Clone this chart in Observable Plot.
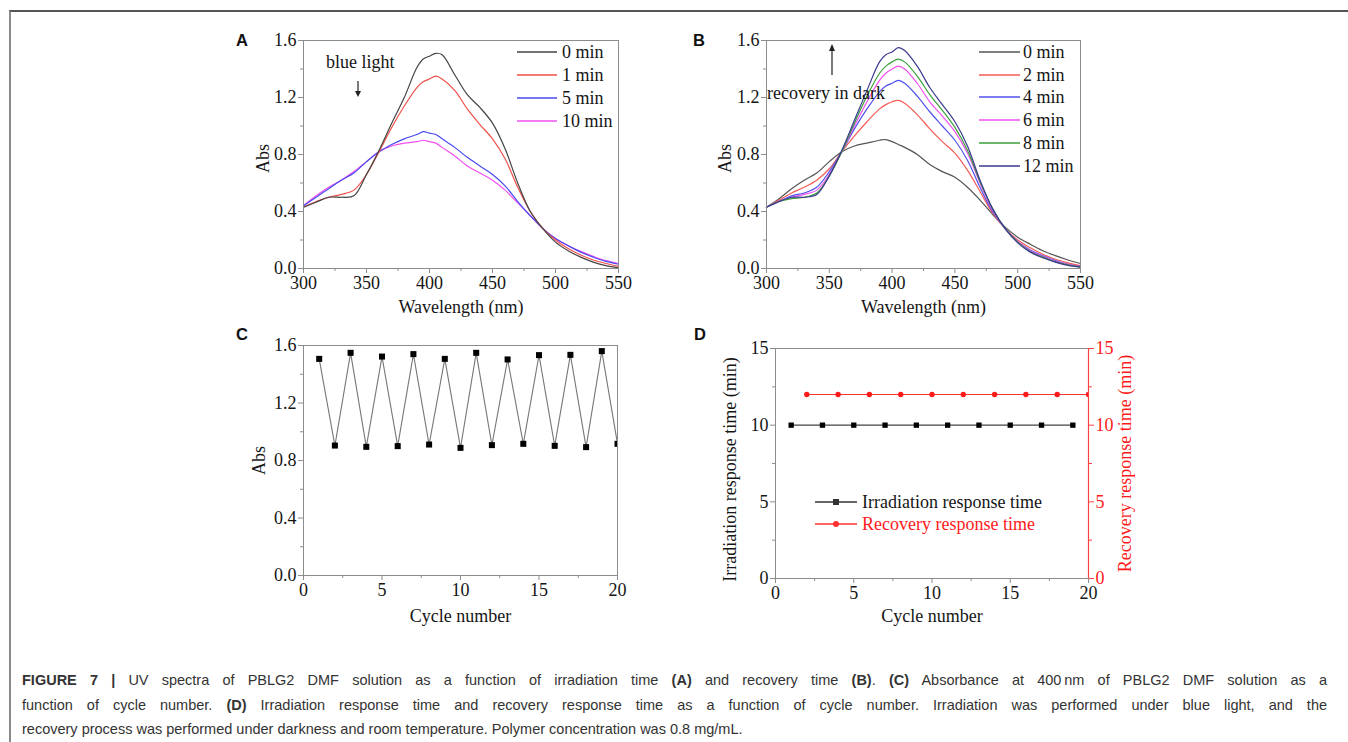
<!DOCTYPE html>
<html><head><meta charset="utf-8">
<script src="https://cdn.jsdelivr.net/npm/d3@7"></script>
<script src="https://cdn.jsdelivr.net/npm/@observablehq/plot@0.6"></script>
<style>
body{margin:0;background:#fff;}
#root{position:relative;width:1348px;height:742px;overflow:hidden;background:#fff;}
.frame{position:absolute;left:9px;top:10px;width:1400px;height:800px;border-top:2px solid #555;border-left:2px solid #8a8a8a;box-sizing:border-box;}
.panel{position:absolute;}
.plbl{position:absolute;font-family:"Liberation Sans",Arial,sans-serif;font-weight:bold;font-size:16.5px;color:#111;line-height:1;}
.cap{position:absolute;left:22px;top:668px;width:1305px;font-family:"Liberation Sans",Arial,sans-serif;font-size:14.5px;color:#333;line-height:24.5px;}
.cap .j{text-align:justify;text-align-last:justify;}
#overlay{position:absolute;left:0;top:0;}
</style>
</head><body>
<div id="root">
  <div class="frame"></div>
  <div class="plbl" style="left:236px;top:32px">A</div>
  <div class="plbl" style="left:693px;top:32px">B</div>
  <div class="plbl" style="left:236px;top:326px">C</div>
  <div class="plbl" style="left:694px;top:326px">D</div>
  <div id="pA" class="panel" style="left:220px;top:25px"></div>
  <div id="pB" class="panel" style="left:690px;top:25px"></div>
  <div id="pC" class="panel" style="left:220px;top:320px"></div>
  <div id="pD" class="panel" style="left:690px;top:320px"></div>
  <svg id="overlay" width="1348" height="742"></svg>
  <div class="cap">
    <div class="j"><b>FIGURE 7 |</b> UV spectra of PBLG2 DMF solution as a function of irradiation time <b>(A)</b> and recovery time <b>(B)</b>. <b>(C)</b> Absorbance at 400&#8201;nm of PBLG2 DMF solution as a</div>
    <div class="j">function of cycle number. <b>(D)</b> Irradiation response time and recovery response time as a function of cycle number. Irradiation was performed under blue light, and the</div>
    <div>recovery process was performed under darkness and room temperature. Polymer concentration was 0.8 mg/mL.</div>
  </div>
</div>
<script>
// ---------- DATA ----------
const wavelength = [300,310,320,330,340,350,360,370,380,390,395,400,405,410,420,430,440,450,460,470,480,490,500,510,520,530,540,550];

// Panel A: irradiation time series
const A_labels = ["0 min","1 min","5 min","10 min"];
const A_0min  = [0.43,0.465,0.50,0.50,0.51,0.66,0.83,1.02,1.20,1.41,1.47,1.49,1.51,1.50,1.36,1.22,1.13,1.02,0.84,0.60,0.40,0.28,0.185,0.125,0.08,0.045,0.02,0.005];
const A_1min  = [0.43,0.47,0.50,0.52,0.55,0.66,0.82,0.99,1.14,1.27,1.31,1.33,1.35,1.33,1.25,1.12,1.01,0.91,0.77,0.57,0.40,0.28,0.20,0.14,0.095,0.06,0.035,0.015];
const A_5min  = [0.44,0.50,0.56,0.62,0.67,0.75,0.82,0.87,0.91,0.94,0.96,0.95,0.94,0.91,0.85,0.78,0.72,0.66,0.58,0.47,0.37,0.28,0.21,0.16,0.115,0.08,0.05,0.03];
const A_10min = [0.44,0.51,0.57,0.62,0.68,0.75,0.82,0.86,0.88,0.89,0.90,0.89,0.88,0.85,0.79,0.72,0.67,0.62,0.55,0.46,0.37,0.28,0.21,0.16,0.12,0.085,0.055,0.035];

// Panel B: recovery time series
const B_labels = ["0 min","2 min","4 min","6 min","8 min","12 min"];
const B_0min  = [0.43,0.49,0.56,0.62,0.67,0.75,0.82,0.86,0.88,0.90,0.905,0.89,0.87,0.85,0.80,0.73,0.68,0.64,0.57,0.48,0.38,0.29,0.22,0.17,0.125,0.09,0.06,0.035];
const B_2min  = [0.43,0.48,0.53,0.57,0.62,0.70,0.82,0.93,1.03,1.12,1.15,1.17,1.18,1.16,1.08,0.98,0.89,0.81,0.69,0.54,0.39,0.28,0.20,0.145,0.10,0.065,0.04,0.02];
const B_4min  = [0.43,0.47,0.51,0.53,0.57,0.68,0.82,0.98,1.12,1.24,1.28,1.30,1.32,1.30,1.21,1.10,1.00,0.90,0.76,0.57,0.40,0.28,0.19,0.13,0.09,0.055,0.03,0.015];
const B_6min  = [0.43,0.47,0.50,0.52,0.55,0.66,0.82,1.00,1.17,1.32,1.37,1.40,1.42,1.40,1.30,1.17,1.07,0.96,0.81,0.60,0.41,0.28,0.19,0.125,0.085,0.05,0.03,0.012];
const B_8min  = [0.43,0.47,0.49,0.50,0.53,0.65,0.82,1.02,1.21,1.37,1.42,1.45,1.47,1.45,1.35,1.22,1.11,0.99,0.83,0.61,0.42,0.28,0.185,0.12,0.08,0.047,0.025,0.01];
const B_12min = [0.43,0.47,0.50,0.50,0.52,0.65,0.83,1.04,1.25,1.45,1.50,1.52,1.55,1.53,1.42,1.27,1.15,1.03,0.86,0.62,0.42,0.28,0.18,0.115,0.075,0.045,0.022,0.01];

// Panel C: absorbance at 400 nm vs cycle
const C_cycle = [1,2,3,4,5,6,7,8,9,10,11,12,13,14,15,16,17,18,19,20];
const C_abs   = [1.507,0.904,1.549,0.895,1.523,0.900,1.540,0.911,1.507,0.888,1.549,0.907,1.503,0.916,1.533,0.902,1.535,0.893,1.561,0.916];

// Panel D: response times
const D_irrCycle = [1,3,5,7,9,11,13,15,17,19];
const D_irrTime  = [10,10,10,10,10,10,10,10,10,10];
const D_recCycle = [2,4,6,8,10,12,14,16,18,20];
const D_recTime  = [12,12,12,12,12,12,12,12,12,12];
const D_labels = ["Irradiation response time","Recovery response time"];

// Tick values
const specXTicks = [300,350,400,450,500,550];
const specXMinor = [325,375,425,475,525];
const absYTicks = [0.0,0.4,0.8,1.2,1.6];
const absYMinor = [0.2,0.6,1.0,1.4];
const cycXTicks = [0,5,10,15,20];
const cycXMinor = [2.5,7.5,12.5,17.5];
const timeYTicks = [0,5,10,15];
const timeYMinor = [2.5,7.5,12.5];

// ---------- STYLE ----------
const AX = "#8c8c8c";
const TXT = "#151515";
const serif = '"Liberation Serif", "Times New Roman", serif';
const A_colors = ["#444444","#f0504a","#4a4af0","#f050f0"];
const B_colors = ["#555555","#f55a55","#5050ee","#f050f0","#3aa03a","#3a3a90"];

function series(xs, ys){ return xs.map((x,i)=>({x, y: ys[i]})); }

function axesMarks(o){
  return [
    Plot.frame({stroke: AX}),
    Plot.axisX({ticks:o.xt, tickSize:5, tickPadding:3, stroke:AX, fill:TXT, label:null, tickFormat:o.xf||(d=>String(d))}),
    Plot.axisX({ticks:o.xm, tickSize:3, stroke:AX, fill:"none", label:null}),
    Plot.axisY({ticks:o.yt, tickSize:5, tickPadding:2, stroke:AX, fill:TXT, label:null, tickFormat:o.yf}),
    Plot.axisY({ticks:o.ym, tickSize:3, stroke:AX, fill:"none", label:null}),
    Plot.text([o.xl], {text:d=>d, frameAnchor:"bottom", dy:o.xdy, lineAnchor:"middle", textAnchor:"middle", fill:TXT, fontSize:18}),
    Plot.text([o.yl], {text:d=>d, frameAnchor:"left", dx:o.ydx, dy:o.ydy||0, rotate:-90, lineAnchor:"middle", textAnchor:"middle", fill:TXT, fontSize:18})
  ];
}

function baseOpts(o){
  return {width:o.w, height:o.h, marginLeft:o.ml, marginRight:o.mr, marginTop:o.mt, marginBottom:o.mb,
    x:{domain:o.xd}, y:{domain:o.yd},
    style:{fontFamily:serif, fontSize:"18px", color:TXT, background:"transparent", overflow:"visible"}};
}

// Panel A
{
  const o = {w:420,h:305,ml:83,mr:22,mt:15,mb:62,xd:[300,550],yd:[0,1.6],
    xt:specXTicks,xm:specXMinor,yt:absYTicks,ym:absYMinor,yf:d3.format(".1f"),
    xl:"Wavelength (nm)",xdy:39,yl:"Abs",ydx:-40,ydy:4};
  const ys = [A_0min,A_1min,A_5min,A_10min];
  const lines = ys.map((s,i)=>Plot.line(series(wavelength,s),{x:"x",y:"y",stroke:A_colors[i],strokeWidth:1.2,curve:"catmull-rom"})).reverse();
  document.getElementById("pA").append(Plot.plot({...baseOpts(o), marks:[...lines, ...axesMarks(o)]}));
}
// Panel B
{
  const o = {w:420,h:305,ml:76,mr:30,mt:15,mb:62,xd:[300,550],yd:[0,1.6],
    xt:specXTicks,xm:specXMinor,yt:absYTicks,ym:absYMinor,yf:d3.format(".1f"),
    xl:"Wavelength (nm)",xdy:39,yl:"Abs",ydx:-41,ydy:4};
  const ys = [B_0min,B_2min,B_4min,B_6min,B_8min,B_12min];
  const lines = ys.map((s,i)=>Plot.line(series(wavelength,s),{x:"x",y:"y",stroke:B_colors[i],strokeWidth:1.2,curve:"catmull-rom"}));
  document.getElementById("pB").append(Plot.plot({...baseOpts(o), marks:[...lines, ...axesMarks(o)]}));
}
// Panel C
{
  const o = {w:420,h:310,ml:83,mr:23,mt:25,mb:55,xd:[0,20],yd:[0,1.6],
    xt:cycXTicks,xm:cycXMinor,yt:absYTicks,ym:absYMinor,yf:d3.format(".1f"),
    xl:"Cycle number",xdy:41,yl:"Abs",ydx:-44};
  const data = series(C_cycle, C_abs);
  document.getElementById("pC").append(Plot.plot({...baseOpts(o), marks:[
    Plot.line(data,{x:"x",y:"y",stroke:"#777",strokeWidth:1.1,clip:true}),
    Plot.dot(data,{x:"x",y:"y",symbol:"square",fill:"#000",stroke:"none",r:3.4,clip:true}),
    ...axesMarks(o)]}));
}
// Panel D
{
  const o = {w:460,h:310,ml:85,mr:62,mt:28,mb:52,xd:[0,20],yd:[0,15],
    xt:cycXTicks,xm:cycXMinor,yt:timeYTicks,ym:timeYMinor,yf:d3.format("d"),
    xl:"Cycle number",xdy:38,yl:"Irradiation response time (min)",ydx:-45,ydy:6};
  const irr = series(D_irrCycle, D_irrTime);
  const rec = series(D_recCycle, D_recTime);
  document.getElementById("pD").append(Plot.plot({...baseOpts(o), marks:[
    Plot.line(irr,{x:"x",y:"y",stroke:"#444",strokeWidth:1.1}),
    Plot.dot(irr,{x:"x",y:"y",symbol:"square",fill:"#000",stroke:"none",r:3}),
    Plot.line(rec,{x:"x",y:"y",stroke:"#ff3030",strokeWidth:1.1,clip:true}),
    Plot.dot(rec,{x:"x",y:"y",fill:"#ff1a1a",stroke:"none",r:2.7,clip:true}),
    ...axesMarks(o),
    Plot.ruleX([o.xd[1]],{stroke:"#ff4040",strokeWidth:1.2}),
    Plot.axisY({anchor:"right",ticks:timeYTicks,tickSize:5,tickPadding:2,stroke:"#ff4040",fill:"#ff1a1a",label:null,tickFormat:d3.format("d")}),
    Plot.axisY({anchor:"right",ticks:timeYMinor,tickSize:3,stroke:"#ff4040",fill:"none",label:null}),
    Plot.text(["Recovery response time (min)"],{text:d=>d,frameAnchor:"right",dx:37,rotate:-90,lineAnchor:"middle",textAnchor:"middle",fill:"#ff1a1a",fontSize:18})
  ]}));
}

// ---------- LEGENDS & ANNOTATIONS ----------
const svg = d3.select("#overlay");
function legend(labels, colors, x0, x1, tx, ys, marker){
  labels.forEach((lab,i)=>{
    svg.append("line").attr("x1",x0).attr("x2",x1).attr("y1",ys[i]).attr("y2",ys[i]).attr("stroke",colors[i]).attr("stroke-width",1.3);
    if (marker && marker[i]==="square") svg.append("rect").attr("x",(x0+x1)/2-3).attr("y",ys[i]-3).attr("width",6).attr("height",6).attr("fill",colors[i]);
    if (marker && marker[i]==="circle") svg.append("circle").attr("cx",(x0+x1)/2).attr("cy",ys[i]).attr("r",3).attr("fill",colors[i]);
    svg.append("text").attr("x",tx).attr("y",ys[i]).attr("dy","0.34em").attr("font-family",serif).attr("font-size",18)
      .attr("fill", marker ? (i===0?TXT:"#ff1a1a") : TXT).text(lab);
  });
}
legend(A_labels, A_colors, 517, 557, 562, [52,75,98,121]);
legend(B_labels, B_colors, 979, 1020, 1023, [52,75,97,120,143,166]);
legend(D_labels, ["#333","#ff3030"], 815, 857, 862, [502,524], ["square","circle"]);

// annotations
svg.append("text").attr("x",326).attr("y",62).attr("dy","0.34em").attr("font-family",serif).attr("font-size",18).attr("fill",TXT).text("blue light");
svg.append("line").attr("x1",358).attr("x2",358).attr("y1",81).attr("y2",93).attr("stroke","#222").attr("stroke-width",1.2);
svg.append("path").attr("d","M355,91 L361,91 L358,97 Z").attr("fill","#222");
svg.append("text").attr("x",767).attr("y",93).attr("dy","0.34em").attr("font-family",serif).attr("font-size",18).attr("fill",TXT).text("recovery in dark");
svg.append("line").attr("x1",832).attr("x2",832).attr("y1",75).attr("y2",49).attr("stroke","#222").attr("stroke-width",1.2);
svg.append("path").attr("d","M829,51 L835,51 L832,44 Z").attr("fill","#222");
</script>
</body></html>
